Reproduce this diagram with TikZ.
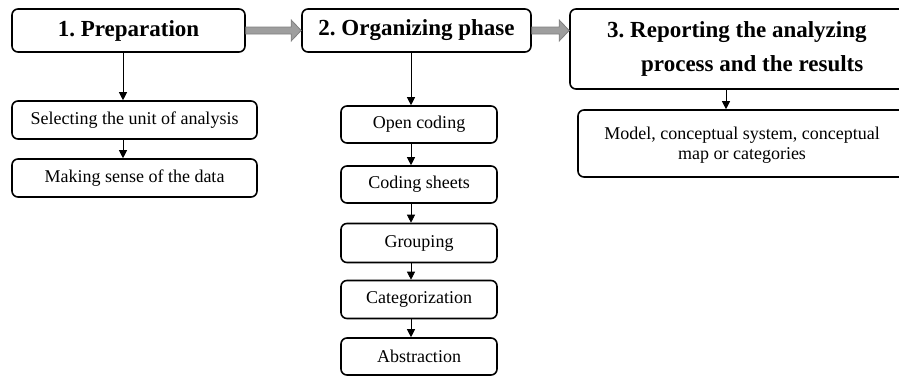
\documentclass[tikz,border=0pt]{standalone}
\usepackage{fontspec}
\setmainfont{Liberation Serif}
\usetikzlibrary{arrows.meta,calc}
\frenchspacing
\begin{document}
\begin{tikzpicture}[x=1pt,y=1pt,
  box/.style={draw=black, line width=1.6pt, rounded corners=6pt, inner sep=0pt, fill=white},
  titlebox/.style={box, minimum height=43pt},
  smallbox/.style={box, minimum height=38pt, font=\fontsize{18}{21}\selectfont},
  titletext/.style={font=\fontsize{23}{34}\selectfont\bfseries},
  arr/.style={draw=black, line width=0.8pt, -{Triangle[width=8pt,length=8pt]}},
  grayarrow/.style={fill=black!38, draw=black!50, line width=0.8pt}
]
\useasboundingbox (0,0) rectangle (899,-376);
\clip (0,0) rectangle (899,-376);

% top level boxes
\node[titlebox, titletext, minimum width=233pt] (p1) at (128.5,-30.5) {1. Preparation};
\node[titlebox, titletext, minimum width=229pt] (p2) at (416.5,-30.5) {2. Organizing phase};
\node[box, minimum width=400pt, minimum height=80pt] (p3) at (770,-49) {};
\node[titletext, align=left, anchor=west, inner sep=0pt] (t3) at (607,-49) {3. Reporting the analyzing\\\hspace*{34pt}process and the results};

% grey arrows
\draw[grayarrow] ($(p1.east)+(0,3.5)$) -- ($(p2.west)+(-10,3.5)$) -- ($(p2.west)+(-10,10.5)$) -- (p2.west)
  -- ($(p2.west)+(-10,-10.5)$) -- ($(p2.west)+(-10,-3.5)$) -- ($(p1.east)+(0,-3.5)$) -- cycle;
\coordinate (p3w) at (p3.west |- p2.west);
\draw[grayarrow] ($(p2.east)+(0,3.5)$) -- ($(p3w)+(-10,3.5)$) -- ($(p3w)+(-10,10.5)$) -- (p3w)
  -- ($(p3w)+(-10,-10.5)$) -- ($(p3w)+(-10,-3.5)$) -- ($(p2.east)+(0,-3.5)$) -- cycle;

% left column
\node[smallbox, minimum width=245pt] (sel) at (134.5,-120) {Selecting the unit of analysis};
\node[smallbox, minimum width=245pt] (mak) at (134.5,-178) {Making sense of the data};
\coordinate (ax1) at (123,0);
\draw[arr] (p1.south -| ax1) -- (sel.north -| ax1);
\draw[arr] (sel.south -| ax1) -- (mak.north -| ax1);

% middle column
\node[smallbox, minimum width=156pt, minimum height=37pt] (oc) at (419,-124.5) {Open coding};
\node[smallbox, minimum width=156pt, minimum height=37pt] (cs) at (419,-184.5) {Coding sheets};
\node[smallbox, minimum width=156pt, minimum height=39pt] (gr) at (419,-243) {Grouping};
\node[smallbox, minimum width=156pt, minimum height=38pt] (ca) at (419,-299.5) {Categorization};
\node[smallbox, minimum width=156pt, minimum height=37pt] (ab) at (419,-356.5) {Abstraction};
\coordinate (ax2) at (411,0);
\draw[arr] (p2.south -| ax2) -- (oc.north -| ax2);
\draw[arr] (oc.south -| ax2) -- (cs.north -| ax2);
\draw[arr] (cs.south -| ax2) -- (gr.north -| ax2);
\draw[arr] (gr.south -| ax2) -- (ca.north -| ax2);
\draw[arr] (ca.south -| ax2) -- (ab.north -| ax2);

% right column
\node[box, minimum width=400pt, minimum height=67pt] (mo) at (778,-143.5) {};
\node[align=center, inner sep=0pt, font=\fontsize{18}{20}\selectfont] (tmo) at (742,-145) {Model, conceptual system, conceptual\\map or categories};
\coordinate (ax3) at (726,0);
\draw[arr] (p3.south -| ax3) -- (mo.north -| ax3);
\end{tikzpicture}
\end{document}
